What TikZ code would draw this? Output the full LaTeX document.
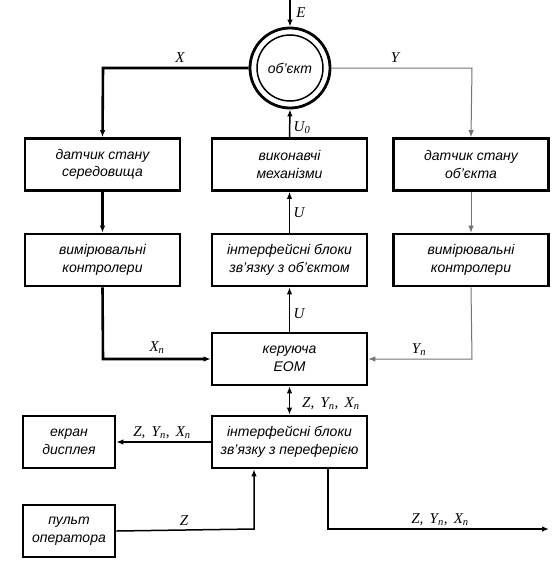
\documentclass[tikz,border=0pt]{standalone}
\usepackage{fontspec}
\setmainfont{Liberation Serif}
\setsansfont{Liberation Sans}
\usetikzlibrary{arrows.meta}
\tikzset{
  blk/.style={draw, line width=2.6pt, minimum width=155pt, minimum height=52pt, inner sep=0pt,
    align=center, font=\sffamily\itshape\fontsize{14}{17.5}\selectfont},
  sblk/.style={blk, minimum width=92pt},
  lbl/.style={font=\itshape\fontsize{15}{17}\selectfont, inner sep=0pt},
  arr/.style={-{Latex[length=7pt,width=5.5pt]}, line width=1.5pt},
  thk/.style={arr, line width=2.6pt},
  thn/.style={-{Latex[length=7pt,width=5.5pt]}, line width=1pt, draw=black!55},
}
\begin{document}
\begin{tikzpicture}[x=1pt,y=-1pt]
\useasboundingbox (0,0) rectangle (553,562);
% object
\node (obj) [circle, draw, line width=2.8pt, minimum size=80pt, inner sep=0pt] at (290,68) {};
\draw[line width=1.5pt] (290,68) circle (33pt);
\node (objt) at (290,68) {\sffamily\itshape\fontsize{14}{16}\selectfont об'єкт};
% boxes
\node (ds) [blk] at (102.5,164.5) {датчик стану\\середовища};
\node (vm) [blk] at (289.5,164.5) {виконавчі\\механізми};
\node (do) [blk] at (471,164.5) {датчик стану\\об'єкта};
\node (kl) [blk] at (102.5,260) {вимірювальні\\контролери};
\node (ib) [blk] at (289.5,260) {інтерфейсні блоки\\зв'язку з об'єктом};
\node (kr) [blk] at (471,260) {вимірювальні\\контролери};
\node (eom) [blk] at (289.5,359) {керуюча\\ЕОМ};
\node (ip) [blk] at (289.5,442) {інтерфейсні блоки\\зв'язку з переферією};
\node (ek) [sblk] at (69,442) {екран\\дисплея};
\node (po) [sblk] at (69,531) {пульт\\оператора};
% coordinates
\coordinate (etop) at (290,0);
\coordinate (xc) at (103,68);
\coordinate (yc) at (472,68);
\coordinate (xn) at (103,359);
\coordinate (yn) at (472,359);
\coordinate (zc) at (254,529);
\coordinate (oc) at (328,529);
\coordinate (oe) at (549,529);
% connectors
\draw[arr] (etop) -- (obj.north);
\draw[thk] (obj.west) -- (xc) -- (ds.north);
\draw[thn] (obj.east) -- (yc) -- (do.north);
\draw[thk] (ds.south) -- (kl.north);
\draw[thk] (kl.south) -- (xn) -- (eom.west);
\draw[thn] (do.south) -- (kr.north);
\draw[thn] (kr.south) -- (yn) -- (eom.east);
\draw[arr] (eom.north) -- (ib.south);
\draw[arr] (ib.north) -- (vm.south);
\draw[arr] (vm.north) -- (obj.south);
\draw[{Latex[length=7pt,width=5.5pt]}-{Latex[length=7pt,width=5.5pt]}, line width=1.5pt] (eom.south) -- (ip.north);
\draw[arr] (ip.west) -- (ek.east);
\draw[arr] (po.east) -- (zc) -- (zc |- ip.south);
\draw[arr] (oc |- ip.south) -- (oc) -- (oe);
% labels
\node[lbl] (le) at (301,13) {E};
\node[lbl] (lx) at (180,58) {X};
\node[lbl] (ly) at (395,58) {Y};
\node[lbl] (lu0) at (302,128) {U\textsubscript{0}};
\node[lbl] (lu1) at (299,213) {U};
\node[lbl] (lu2) at (299,314) {U};
\node[lbl] (lxn) at (157,348) {X\textsubscript{п}};
\node[lbl] (lyn) at (419,350) {Y\textsubscript{п}};
\node[lbl, anchor=west] (l1) at (302,404) {Z,\, Y\textsubscript{п},\, X\textsubscript{п}};
\node[lbl] (l2) at (162,433) {Z,\, Y\textsubscript{п},\, X\textsubscript{п}};
\node[lbl] (lz) at (184,521) {Z};
\node[lbl] (l3) at (440,520) {Z,\, Y\textsubscript{п},\, X\textsubscript{п}};
\end{tikzpicture}
\end{document}
